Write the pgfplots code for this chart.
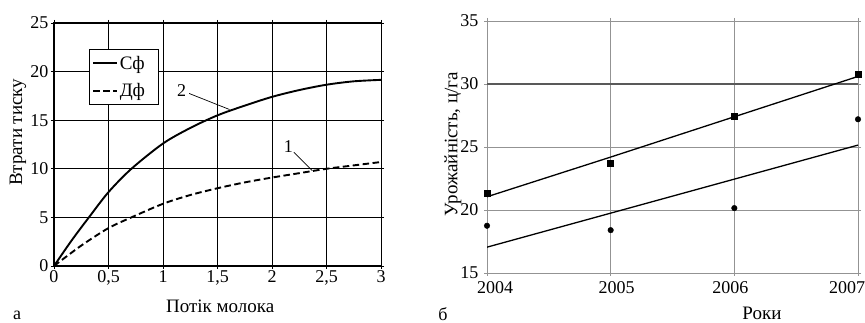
\documentclass[border=0pt]{standalone}
\usepackage{fontspec}
\setmainfont{Liberation Serif}
\setsansfont{Liberation Serif}
\usepackage{pgfplots}
\pgfplotsset{compat=1.18}
\newcommand{\tl}[1]{\textrm{#1}}
\begin{document}
\begin{tikzpicture}[x=1pt,y=1pt]
\useasboundingbox (0,0) rectangle (865,323);
\begin{axis}[
  at={(54pt,57pt)}, anchor=south west, scale only axis,
  width=327pt, height=243pt,
  xmin=0, xmax=3, ymin=0, ymax=25,
  /pgf/number format/assume math mode=true,
  xtick={0,0.5,1,1.5,2,2.5,3},
  xticklabels={\tl{0},\tl{0,5},\tl{1},\tl{1,5},\tl{2},\tl{2,5},\tl{3}},
  ytick={0,5,10,15,20,25},
  yticklabels={\tl{0},\tl{5},\tl{10},\tl{15},\tl{20},\tl{25}},
  grid=major, grid style={black, line width=0.8pt},
  axis line style={black, line width=1pt},
  tick style={black, line width=0.8pt}, tick align=outside, major tick length=3pt,
  ticklabel style={font=\rmfamily\fontsize{18}{20}\selectfont},
  xticklabel style={yshift=2pt}, yticklabel style={xshift=1pt},
  label style={font=\fontsize{19}{21}\selectfont},
  xlabel={Потік молока}, ylabel={Втрати тиску},
  xlabel style={at={(axis description cs:0.508,-0.165)}, anchor=center},
  ylabel style={at={(axis description cs:-0.110,0.55)}, anchor=center},
  legend image code/.code={\draw[#1] (0pt,0pt) -- (24pt,0pt);},
  legend style={at={(axis description cs:0.107,0.893)}, anchor=north west,
    draw=black, line width=0.8pt, fill=white, font=\fontsize{19}{21}\selectfont,
    inner xsep=3pt, inner ysep=5pt, row sep=10pt,
    nodes={inner sep=1.5pt}},
  legend cell align=left,
]
\addplot[black, line width=1.9pt, smooth] coordinates {
 (0,0) (0.16,2.6) (0.32,5.0) (0.5,7.6) (0.71,10.0) (1,12.6) (1.25,14.2) (1.5,15.5)
 (1.75,16.5) (2,17.4) (2.25,18.1) (2.5,18.65) (2.75,19.0) (3,19.15)};
\addlegendentry{Сф\hspace*{9pt}}
\addplot[black, line width=1.9pt, dash pattern=on 6.5pt off 3.5pt, smooth] coordinates {
 (0,0) (0.25,2.1) (0.5,3.9) (0.71,5.0) (1,6.4) (1.25,7.3) (1.5,8.0) (1.75,8.6)
 (2,9.1) (2.25,9.55) (2.5,10.0) (2.75,10.35) (3,10.7)};
\addlegendentry{Дф\hspace*{9pt}}
\draw[black, line width=0.7pt] (axis cs:1.24,17.75) -- (axis cs:1.61,16.1);
\node[font=\fontsize{18}{20}\selectfont] at (axis cs:1.17,18.1) {2};
\draw[black, line width=0.7pt] (axis cs:2.2,11.7) -- (axis cs:2.37,9.8);
\node[font=\fontsize{18}{20}\selectfont] at (axis cs:2.15,12.25) {1};
\end{axis}
\begin{axis}[
  at={(487pt,50pt)}, anchor=south west, scale only axis,
  width=371pt, height=252pt,
  xmin=2004, xmax=2007, ymin=15, ymax=35,
  /pgf/number format/assume math mode=true,
  xtick={2004,2005,2006,2007},
  xticklabels={\hspace*{16pt}\tl{2004},\hspace*{12pt}\tl{2005},\hspace*{-8pt}\tl{2006},\hspace*{-22pt}\tl{2007}},
  ytick={15,20,25,30,35},
  yticklabels={\tl{15},\tl{20},\tl{25},\tl{30},\tl{35}},
  grid=major, grid style={gray!85, line width=0.8pt},
  axis line style={gray!85, line width=0.9pt},
  tick style={gray!85, line width=0.8pt}, tick align=outside, major tick length=3pt,
  ticklabel style={font=\rmfamily\fontsize{18}{20}\selectfont},
  xticklabel style={yshift=-2pt}, yticklabel style={xshift=-2pt},
  label style={font=\fontsize{19}{21}\selectfont},
  xlabel={Роки}, ylabel={Урожайність, ц/га},
  xlabel style={at={(axis description cs:0.741,-0.160)}, anchor=center},
  ylabel style={at={(axis description cs:-0.092,0.512)}, anchor=center},
]
\addplot[draw=black!65, line width=1.5pt, forget plot] coordinates {(2004,30) (2007,30)};
\addplot[black, line width=1.3pt] coordinates {(2004,21.05) (2005,24.2) (2006,27.4) (2007,30.6)};
\addplot[black, line width=1.3pt] coordinates {(2004,17.05) (2005,19.75) (2006,22.45) (2007,25.15)};
\addplot[only marks, mark=square*, mark size=3pt, black] coordinates {
 (2004,21.35) (2005,23.7) (2006,27.45) (2007,30.8)};
\addplot[only marks, mark=*, mark size=2.8pt, black] coordinates {
 (2004,18.75) (2005,18.4) (2006,20.15) (2007,27.2)};
\end{axis}
\node[font=\fontsize{18}{20}\selectfont] at (17,8) {а};
\node[font=\fontsize{18}{20}\selectfont] at (443,9) {б};
\end{tikzpicture}
\end{document}
